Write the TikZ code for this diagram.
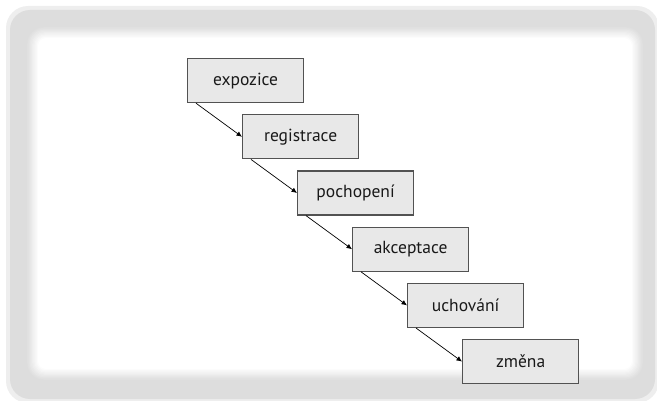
\documentclass[tikz,border=0pt]{standalone}
\usepackage{fontspec}
\setmainfont{PT Sans}
\usepackage{tikz}
\usetikzlibrary{positioning,calc}
\usetikzlibrary{arrows.meta}
\colorlet{boxgray}{gray!18}
\colorlet{framegray}{gray!27}
\tikzstyle{arrow} = [line width=0.7pt,-{Latex[length=5.5pt,width=5pt]}]

\begin{document}
\begin{tikzpicture}[x=1pt,y=1pt,stepbox/.style={rectangle, draw=black!68, line width=1.2pt, fill=boxgray, minimum width=116pt, minimum height=44pt, text=black!90, font=\fontsize{17.5}{20}\selectfont}]
	\useasboundingbox (0,0) rectangle (657,-401);
	
	% FRAME
	
	\fill[framegray!50, rounded corners=22pt] (6,-6) rectangle (659,-403);
	\fill[framegray, rounded corners=20pt] (10,-10) rectangle (655,-399);
	\foreach \k in {0,...,10}
		\fill[white!\k0!framegray, rounded corners=18pt-\k pt] (26+1.2*\k,-26-1.2*\k) rectangle (644-1.2*\k,-381+1.2*\k);
	
	% STEPS
	
	\node [stepbox, anchor=north west] (expozice) at (187,-58) {expozice};
	\node [stepbox, below=11pt of expozice, xshift=55pt] (registrace) {registrace};
	\node [stepbox, below=11pt of registrace, xshift=55pt] (pochopeni) {pochopení};
	\node [stepbox, below=11pt of pochopeni, xshift=55pt] (akceptace) {akceptace};
	\node [stepbox, below=11pt of akceptace, xshift=55pt] (uchovani) {uchování};
	\node [stepbox, below=11pt of uchovani, xshift=55pt] (zmena) {změna};
	
	% ARROWS
	
	\draw [arrow] ([xshift=9pt]expozice.south west) -- (registrace.west);
	\draw [arrow] ([xshift=9pt]registrace.south west) -- (pochopeni.west);
	\draw [arrow] ([xshift=9pt]pochopeni.south west) -- (akceptace.west);
	\draw [arrow] ([xshift=9pt]akceptace.south west) -- (uchovani.west);
	\draw [arrow] ([xshift=9pt]uchovani.south west) -- (zmena.west);
	
\end{tikzpicture}
\end{document}
